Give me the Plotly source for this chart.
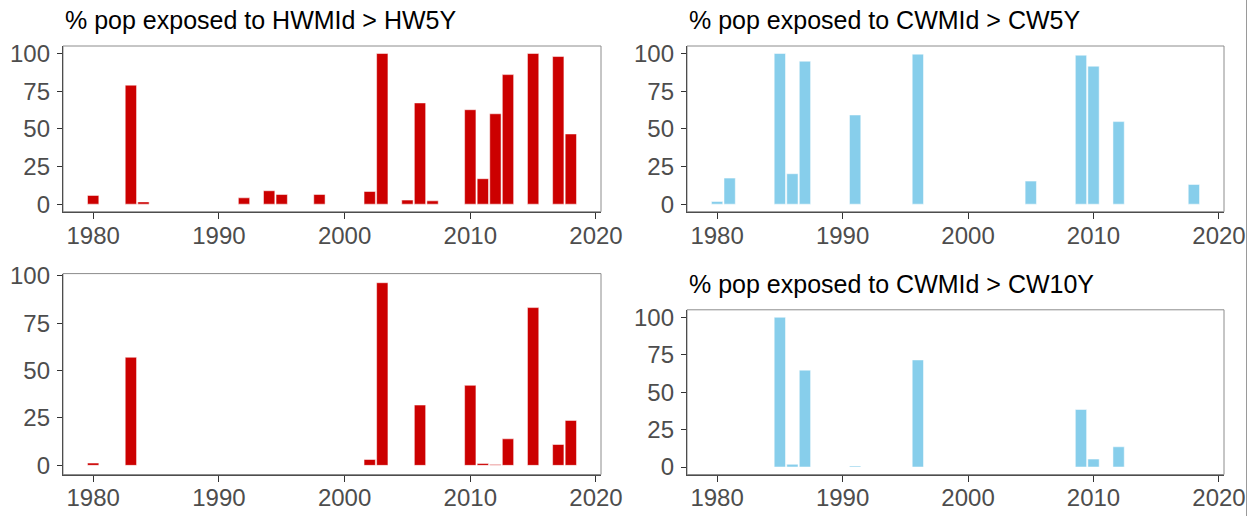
import plotly.graph_objects as go

# ---- data ----
hw5_years = [1980, 1983, 1984, 1992, 1994, 1995, 1998, 2002, 2003, 2005, 2006, 2007,
             2010, 2011, 2012, 2013, 2015, 2017, 2018]
hw5_vals = [5.8, 79, 1.5, 4.2, 8.9, 6.4, 6.4, 8.4, 100, 2.7, 67.2, 2.2,
            62.7, 16.9, 60, 86, 100, 98, 46.6]

cw5_years = [1980, 1981, 1985, 1986, 1987, 1991, 1996, 2005, 2009, 2010, 2012, 2018]
cw5_vals = [1.8, 17.3, 100, 20.2, 94.9, 59.2, 99.6, 15.3, 98.9, 91.6, 54.8, 13.1]

hw10_years = [1980, 1983, 2002, 2003, 2006, 2010, 2011, 2012, 2013, 2015, 2017, 2018]
hw10_vals = [1.2, 57, 3.1, 96.3, 31.8, 42.2, 1.0, 0.4, 14, 83.2, 11, 23.7]

cw10_years = [1985, 1986, 1987, 1991, 1996, 2009, 2010, 2012]
cw10_vals = [100, 1.8, 64.7, 0.7, 71.5, 38.4, 5.3, 13.5]

titles = ["% pop exposed to HWMId > HW5Y", "% pop exposed to CWMId > CW5Y",
          "", "% pop exposed to CWMId > CW10Y"]
x_ticks = [1980, 1990, 2000, 2010, 2020]
y_ticks = [0, 25, 50, 75, 100]

RED = "#CC0000"
BLUE = "#87CEEB"

# body margin is removed in the page, so the figure fills the 1255x516 viewport
W, H = 1255, 516

def px_x(a, b):
    return [a / W, b / W]

def px_y(top, bottom):
    return [1 - bottom / H, 1 - top / H]

panels = [
    dict(years=hw5_years, vals=hw5_vals, color=RED, xd=px_x(63, 601), yd=px_y(46, 211.7), title=titles[0], ty=20),
    dict(years=cw5_years, vals=cw5_vals, color=BLUE, xd=px_x(687, 1224), yd=px_y(46, 211.7), title=titles[1], ty=20),
    dict(years=hw10_years, vals=hw10_vals, color=RED, xd=px_x(63, 601), yd=px_y(273.6, 474.5), title=titles[2], ty=None),
    dict(years=cw10_years, vals=cw10_vals, color=BLUE, xd=px_x(687, 1224), yd=px_y(309.8, 474.5), title=titles[3], ty=284),
]

fig = go.Figure()
layout = dict(
    template="none",
    width=W, height=H,
    margin=dict(l=0, r=0, t=0, b=0, pad=0),
    paper_bgcolor="white", plot_bgcolor="white",
    showlegend=False,
    font=dict(family="Liberation Sans, Arial, sans-serif", color="#4D4D4D", size=24),
)
annotations = []
shapes = []

for i, p in enumerate(panels, start=1):
    xa = "x" if i == 1 else f"x{i}"
    ya = "y" if i == 1 else f"y{i}"
    fig.add_trace(go.Bar(
        x=p["years"], y=p["vals"], width=0.9,
        marker=dict(color=p["color"], line=dict(color="rgba(255,255,255,0.85)", width=0.6)),
        xaxis=xa, yaxis=ya, hoverinfo="x+y",
    ))
    vmax = max(p["vals"])
    layout["xaxis" if i == 1 else f"xaxis{i}"] = dict(
        domain=p["xd"], anchor=ya, range=[1977.6, 2020.4], automargin=False,
        tickvals=x_ticks, ticks="outside", ticklen=6, tickwidth=1.3, tickcolor="#333333",
        showline=True, linecolor="#4D4D4D", linewidth=1.3,
        showgrid=False, zeroline=False, tickfont=dict(size=24, color="#4D4D4D"),
        ticklabelstandoff=-4, fixedrange=True,
    )
    layout["yaxis" if i == 1 else f"yaxis{i}"] = dict(
        domain=p["yd"], anchor=xa, range=[-0.05 * vmax, 1.05 * vmax], automargin=False,
        tickvals=y_ticks, ticks="outside", ticklen=5, tickwidth=1.3, tickcolor="#333333",
        showline=True, linecolor="#4D4D4D", linewidth=1.3,
        showgrid=False, zeroline=False, tickfont=dict(size=24, color="#4D4D4D"),
        ticklabelstandoff=2, fixedrange=True,
    )
    shapes.append(dict(type="rect", xref="paper", yref="paper",
                       x0=p["xd"][0], x1=p["xd"][1], y0=p["yd"][0], y1=p["yd"][1],
                       line=dict(color="#8C8C8C", width=1), fillcolor="rgba(0,0,0,0)",
                       layer="below"))
    if p["title"]:
        annotations.append(dict(text=p["title"], xref="paper", yref="paper",
                                x=p["xd"][0], y=1 - p["ty"] / H, xanchor="left", yanchor="middle",
                                showarrow=False, font=dict(size=25, color="black")))

shapes.append(dict(type="line", xref="paper", yref="paper",
                   x0=1246.5 / W, x1=1246.5 / W, y0=0, y1=1,
                   line=dict(color="#9A9A9A", width=1)))

layout["annotations"] = annotations
layout["shapes"] = shapes
fig.update_layout(**layout)
fig.write_html("out.html", config={"displayModeBar": False},
               post_script="document.body.style.margin='0';")
